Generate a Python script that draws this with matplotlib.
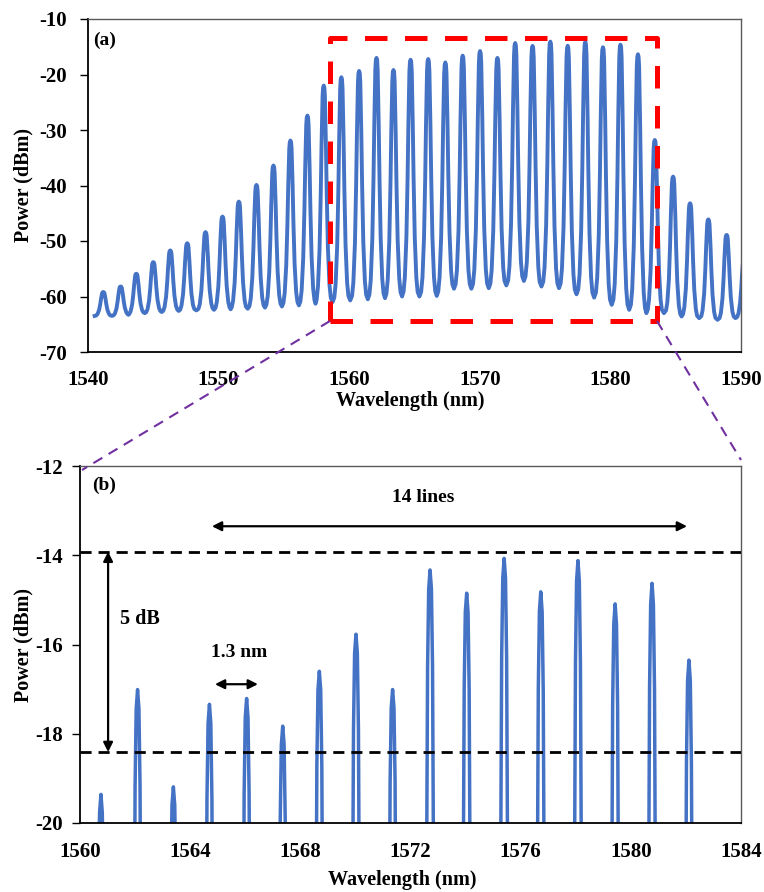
import matplotlib.pyplot as plt
from matplotlib.lines import Line2D

plt.rcParams["font.family"] = ["Liberation Serif", "DejaVu Serif"]
plt.rcParams["font.weight"] = "bold"
plt.rcParams["axes.unicode_minus"] = False

# comb lines (nm, dBm)
peak_nm = [1541.17, 1542.50, 1543.70, 1545.00, 1546.30, 1547.60, 1549.00, 1550.30,
           1551.55, 1552.90, 1554.20, 1555.50, 1556.80, 1558.05, 1559.40, 1560.76,
           1562.09, 1563.39, 1564.70, 1566.05, 1567.36, 1568.69, 1570.02, 1571.35,
           1572.71, 1574.04, 1575.40, 1576.73, 1578.08, 1579.43, 1580.77, 1582.11,
           1583.40, 1584.80, 1586.10, 1587.50, 1588.90, 1590.25]
peak_dbm = [-59.2, -58.2, -55.9, -53.8, -51.7, -50.4, -48.4, -45.6,
            -42.9, -39.9, -36.4, -31.9, -27.4, -22.0, -20.5, -19.36,
            -17.01, -19.19, -17.34, -17.21, -17.83, -16.60, -15.77, -17.01,
            -14.33, -14.85, -14.07, -14.82, -14.12, -15.09, -14.63, -16.35,
            -31.8, -38.4, -43.2, -46.1, -48.9, -53.0]
# floor between neighbouring lines (one more than peaks)
valley_dbm = [-63.5, -63.5, -63.3, -63.0, -62.8, -62.6, -62.5, -62.4, -62.3, -62.2,
              -62.0, -61.8, -61.6, -61.3, -61.0, -60.7, -60.5, -60.3, -60.0, -60.0,
              -59.9, -58.6, -58.6, -58.5, -58.0, -57.2, -58.2, -58.5, -59.6, -60.2,
              -61.5, -62.4, -63.0, -63.0, -63.6, -63.9, -64.2, -63.9, -63.9]

# line profile: offset from centre (nm) and fraction of height above the floor
shape_dx = [-0.54, -0.44, -0.32, -0.23, -0.17, -0.12, -0.09, -0.05, 0.0,
            0.05, 0.09, 0.12, 0.17, 0.23, 0.32, 0.44, 0.54]
shape_fr = [0.02, 0.08, 0.25, 0.50, 0.72, 0.86, 0.95, 0.99, 1.0,
            0.99, 0.95, 0.86, 0.72, 0.50, 0.25, 0.08, 0.02]

wl = []
pw = []
for i, c in enumerate(peak_nm):
    if i == 0:
        mid = c - 0.66
    else:
        mid = (peak_nm[i - 1] + c) / 2
    wl.append(mid)
    pw.append(valley_dbm[i])
    for dx, fr in zip(shape_dx, shape_fr):
        base = valley_dbm[i] if dx < 0 else valley_dbm[i + 1]
        wl.append(c + dx)
        pw.append(base + fr * (peak_dbm[i] - base))
wl.append(peak_nm[-1] + 0.66)
pw.append(valley_dbm[-1])

blue = "#4472C4"
W, H = 764, 892
fig = plt.figure(figsize=(7.64, 8.92), dpi=100)

def px_axes(x0, y0, x1, y1):
    return fig.add_axes([x0 / W, 1 - y1 / H, (x1 - x0) / W, (y1 - y0) / H])

def style(ax):
    for s in ["left", "bottom"]:
        ax.spines[s].set_color("black")
        ax.spines[s].set_linewidth(1.3)
    for s in ["top", "right"]:
        ax.spines[s].set_color("#595959")
        ax.spines[s].set_linewidth(1.0)
    ax.tick_params(axis="y", direction="out", length=6, width=1, labelsize=15)
    ax.tick_params(axis="x", length=0, labelsize=15)

# (a) full spectrum
ax1 = px_axes(88, 19, 741, 352)
ax1.plot(wl, pw, color=blue, lw=2.8, solid_joinstyle="round")
ax1.set_xlim(1540, 1590)
ax1.set_ylim(-70, -10)
ax1.set_xticks(range(1540, 1591, 10))
ax1.set_yticks(range(-70, -9, 10))
style(ax1)
ax1.tick_params(axis="y", pad=9)
ax1.tick_params(axis="x", pad=13)
ax1.set_xlabel("Wavelength (nm)", fontsize=14.5, fontweight="bold", va="center")
ax1.xaxis.set_label_coords(0.493, -0.147)
ax1.set_ylabel("Power (dBm)", fontsize=14.5, fontweight="bold", va="center")
ax1.yaxis.set_label_coords(-0.099, 0.5)
ax1.text(0.008, 0.937, "(a)", transform=ax1.transAxes, fontsize=14,
         fontweight="bold", va="center")
box_x = [1558.5, 1583.6, 1583.6, 1558.5, 1558.5]
box_y = [-64.4, -64.4, -13.4, -13.4, -64.4]
ax1.plot(box_x, box_y, color="#FF0000", lw=3.6, dashes=(4.5, 3.5), zorder=3)

# (b) zoom on the flat part
ax2 = px_axes(80, 466, 741, 823)
ax2.plot(wl, pw, color=blue, lw=2.5, solid_joinstyle="round")
ax2.set_xlim(1560, 1584)
ax2.set_ylim(-20, -12)
ax2.set_xticks(range(1560, 1585, 4))
ax2.set_yticks(range(-20, -11, 2))
style(ax2)
ax2.tick_params(axis="y", pad=6)
ax2.tick_params(axis="x", pad=14)
ax2.set_xlabel("Wavelength (nm)", fontsize=14.5, fontweight="bold", va="center")
ax2.xaxis.set_label_coords(0.487, -0.16)
ax2.set_ylabel("Power (dBm)", fontsize=14.5, fontweight="bold", va="center")
ax2.yaxis.set_label_coords(-0.085, 0.5)
ax2.text(0.018, 0.947, "(b)", transform=ax2.transAxes, fontsize=14,
         fontweight="bold", va="center")

ax2.axhline(-13.92, color="black", lw=2, dashes=(4, 2.5), zorder=3)
ax2.axhline(-18.41, color="black", lw=2, dashes=(4, 2.5), zorder=3)
arrow = dict(arrowstyle="<|-|>", color="black", lw=1.6, mutation_scale=14,
             shrinkA=0, shrinkB=0)
ax2.annotate("", xy=(1561.02, -18.41), xytext=(1561.02, -13.92), arrowprops=arrow)
ax2.annotate("", xy=(1582.04, -13.35), xytext=(1564.79, -13.35), arrowprops=arrow)
ax2.annotate("", xy=(1566.46, -16.89), xytext=(1564.90, -16.89), arrowprops=arrow)
ax2.text(1572.45, -12.7, "14 lines", fontsize=14, fontweight="bold",
         ha="center", va="center")
ax2.text(1562.18, -15.43, "5 dB", fontsize=14.5, fontweight="bold",
         ha="center", va="center")
ax2.text(1565.77, -16.19, "1.3 nm", fontsize=14, fontweight="bold",
         ha="center", va="center")

# purple zoom guides
purple = "#7030A0"
for (xa, ya), (xb, yb) in [((330, 321), (82, 470)), ((657, 321), (741, 460))]:
    fig.add_artist(Line2D([xa / W, xb / W], [1 - ya / H, 1 - yb / H],
                          transform=fig.transFigure, color=purple, lw=1.5,
                          dashes=(5, 3.5)))

fig.savefig("out.png", dpi=100)
